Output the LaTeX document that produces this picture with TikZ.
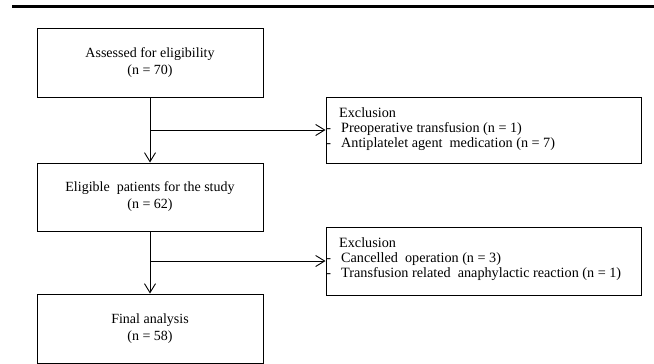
\documentclass[tikz,border=0pt]{standalone}
\usepackage{fontspec}
\setmainfont{Liberation Serif}
\usepackage{tikz}
\usetikzlibrary{arrows.meta}

\begin{document}
\begin{tikzpicture}[
  x = 1pt, y = -1pt,
  every node/.style = {font = \fontsize{14}{17}\selectfont},
  box/.style = {draw, line width = 1pt, minimum width = 226pt, minimum height = 69pt, align = center, inner sep = 0pt},
  exbox/.style = {draw, line width = 1pt, minimum width = 315pt, inner sep = 0pt},
  extext/.style = {align = left, inner sep = 0pt, anchor = base west, font = \fontsize{14.2}{15}\selectfont},
  flow/.style = {-{Straight Barb[length = 9pt, width = 11pt]}, line width = 0.9pt}
  ]
  \useasboundingbox (0,0) rectangle (654,364);
  \draw[line width = 3pt] (12,6) -- (654,6);

  \node[box] (assessed) at (150,62.5) {Assessed for eligibility\\(n = 70)};
  \node[box, minimum height = 68pt] (eligible) at (150,197) {Eligible\ \ patients for the study\\(n = 62)};
  \node[box] (final) at (150,328.5) {Final analysis\\(n = 58)};

  \node[exbox, minimum height = 66pt] (excl1) at (483.5,130) {};
  \node[exbox, minimum height = 68pt] (excl2) at (483.5,261) {};
  % base anchor sits on the last line
  \node[extext] (excl1txt) at (339,147) {Exclusion\\
    \hspace{2pt}\llap{-\hspace{10pt}}Preoperative transfusion (n = 1)\\
    \hspace{2pt}\llap{-\hspace{10pt}}Antiplatelet agent\ \ medication (n = 7)};
  \node[extext] (excl2txt) at (339,277) {Exclusion\\
    \hspace{2pt}\llap{-\hspace{10pt}}Cancelled\ \ operation (n = 3)\\
    \hspace{2pt}\llap{-\hspace{10pt}}Transfusion related\ \ anaphylactic reaction (n = 1)};

  \draw[flow] (assessed) -- (eligible);
  \draw[flow] (eligible) -- (final);
  \draw[flow] (assessed.south |- excl1.west) -- (excl1.west);
  \draw[flow] (eligible.south |- excl2.west) -- (excl2.west);
\end{tikzpicture}
\end{document}
